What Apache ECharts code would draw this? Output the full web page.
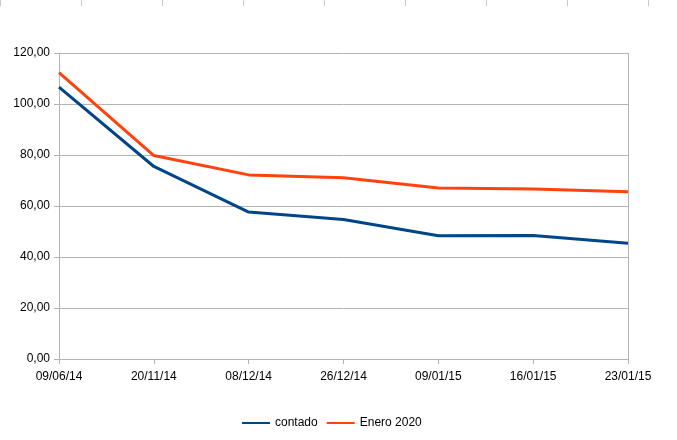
<!DOCTYPE html>
<html><head><meta charset="utf-8">
<script src="https://cdn.jsdelivr.net/npm/echarts@6/dist/echarts.min.js"></script>
<style>html,body{margin:0;padding:0;background:#fff}#c{width:677px;height:440px}</style>
</head><body><div id="c"></div>
<script>
const categories = ['09/06/14','20/11/14','08/12/14','26/12/14','09/01/15','16/01/15','23/01/15'];
const contado = [106.6, 75.5, 57.6, 54.7, 48.3, 48.4, 45.4];
const enero2020 = [112.3, 79.8, 72.2, 71.1, 67.1, 66.7, 65.6];
const yTicks = [0, 20, 40, 60, 80, 100, 120];

const chart = echarts.init(document.getElementById('c'));
const topTicks = [];
for (let i = 0; i < 9; i++) {
  const x = 0.5 + i * 81;
  topTicks.push({type:'line', shape:{x1:x, y1:0, x2:x, y2:6}, style:{stroke:'#c8c8c8', lineWidth:1}, silent:true});
}
const font = 'Liberation Sans, Arial, sans-serif';
chart.setOption({
  animation: false,
  backgroundColor: '#fff',
  graphic: topTicks,
  grid: {left: 59, right: 49, top: 53, bottom: 81, containLabel: false},
  legend: {
    top: 412, left: 237, itemWidth: 28, itemHeight: 12, itemGap: 9,
    icon: 'path://M0,5L28,5L28,7L0,7Z',
    textStyle: {fontFamily: font, fontSize: 12, color: '#000'},
    data: ['contado', 'Enero 2020']
  },
  xAxis: {
    type: 'category', data: categories, boundaryGap: false,
    axisLine: {lineStyle: {color: '#b3b3b3', width: 1}},
    axisTick: {show: true, length: 5, lineStyle: {color: '#b3b3b3'}},
    axisLabel: {fontFamily: font, fontSize: 12, color: '#000', margin: 12},
    splitLine: {show: false}
  },
  yAxis: {
    type: 'value', min: 0, max: 120, interval: 20,
    axisLine: {show: true, lineStyle: {color: '#b3b3b3', width: 1}},
    axisTick: {show: true, length: 5, lineStyle: {color: '#b3b3b3'}},
    axisLabel: {fontFamily: font, fontSize: 12, color: '#000', margin: 9,
      formatter: v => yTicks.includes(v) ? v.toFixed(2).replace('.', ',') : ''},
    splitLine: {lineStyle: {color: '#b3b3b3', width: 1}}
  },
  series: [
    {name: 'contado', type: 'line', data: contado, symbol: 'none',
     lineStyle: {color: '#004586', width: 3}, itemStyle: {color: '#004586'}},
    {name: 'Enero 2020', type: 'line', data: enero2020, symbol: 'none',
     lineStyle: {color: '#ff420e', width: 3}, itemStyle: {color: '#ff420e'}},
    {type: 'line', data: [], markLine: {silent: true, symbol: 'none', label: {show: false},
      lineStyle: {color: '#b3b3b3', type: 'solid', width: 1},
      data: [{xAxis: categories[categories.length - 1]}]}}
  ]
});
</script></body></html>
